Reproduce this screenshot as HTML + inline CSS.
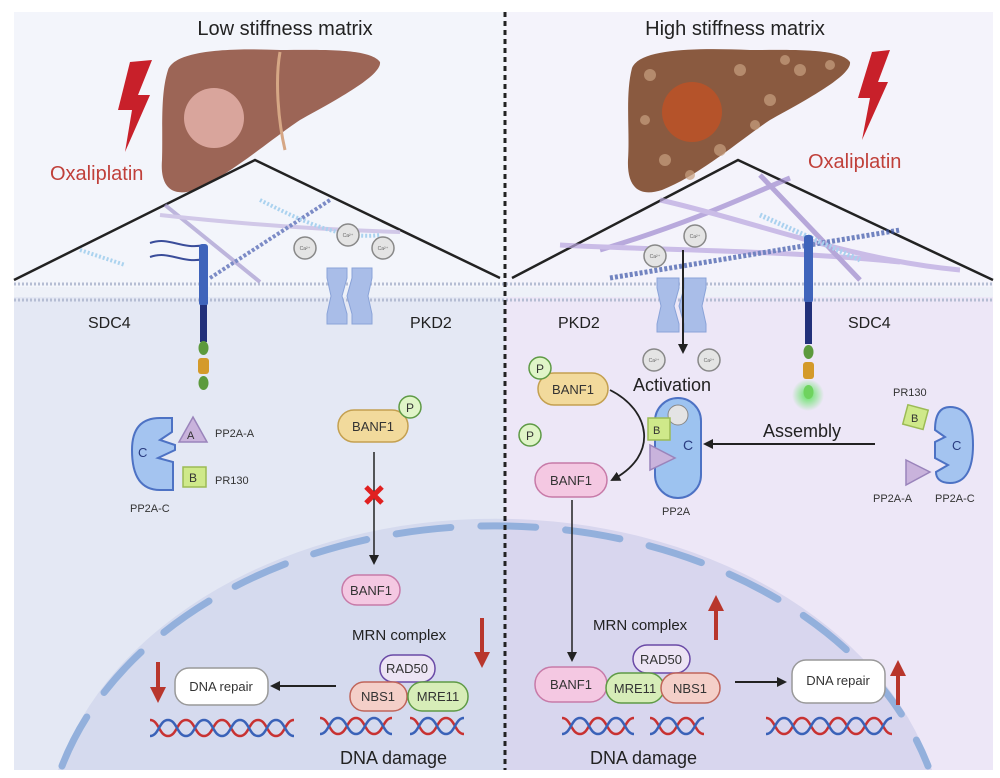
<!DOCTYPE html>
<html><head><meta charset="utf-8"><style>
html,body{margin:0;padding:0;background:#fff;overflow:hidden}
svg{display:block}
text{font-family:"Liberation Sans",sans-serif}
</style></head><body>
<svg width="1000" height="778" viewBox="0 0 1000 778" xmlns="http://www.w3.org/2000/svg">
<defs>
<marker id="ah" markerWidth="10" markerHeight="10" refX="8" refY="5" orient="auto" markerUnits="userSpaceOnUse"><path d="M0,0 L10,5 L0,10 z" fill="#222"/></marker>
<marker id="rh" markerWidth="16" markerHeight="16" refX="8" refY="8" orient="auto" markerUnits="userSpaceOnUse"><path d="M0,0 L16,8 L0,16 z" fill="#b8362c"/></marker>
<radialGradient id="glow"><stop offset="0" stop-color="#5fe35f"/><stop offset="1" stop-color="#5fe35f" stop-opacity="0"/></radialGradient>
<clipPath id="cl"><rect x="14" y="12" width="491" height="758"/></clipPath>
<clipPath id="cr"><rect x="505" y="12" width="488" height="758"/></clipPath>
</defs>
<rect width="1000" height="778" fill="#fff"/>
<rect x="14" y="12" width="491" height="285" fill="#f3f5fb"/>
<rect x="505" y="12" width="488" height="285" fill="#f4f3fb"/>
<rect x="14" y="297" width="491" height="473" fill="#e4e8f4"/>
<rect x="505" y="297" width="488" height="473" fill="#ede7f7"/>
<!-- nucleus -->
<g clip-path="url(#cl)"><path d="M58,770 A450,330 0 0 1 932,770 Z" fill="#d5daee"/></g>
<g clip-path="url(#cr)"><path d="M58,770 A450,330 0 0 1 932,770 Z" fill="#d8d6ee"/></g>
<path d="M62,766 A450,330 0 0 1 928,766" fill="none" stroke="#93b0dc" stroke-width="7" stroke-linecap="round" stroke-dasharray="55 30"/>
<line x1="14" y1="284" x2="993" y2="284" stroke="#b5bdd3" stroke-width="3" stroke-dasharray="2 2"/>
<line x1="14" y1="300" x2="993" y2="300" stroke="#b5bdd3" stroke-width="3" stroke-dasharray="2 2"/>
<rect x="14" y="287" width="979" height="10" fill="#eef1f8"/>
<line x1="505" y1="12" x2="505" y2="770" stroke="#222" stroke-width="3" stroke-dasharray="5 4"/>
<text x="285" y="35" font-size="20" text-anchor="middle" fill="#222">Low stiffness matrix</text>
<text x="735" y="35" font-size="20" text-anchor="middle" fill="#222">High stiffness matrix</text>
<path d="M168,70 C175,50 230,48 280,50 C320,50 370,48 380,62 C382,75 340,98 300,120 C270,140 230,175 195,190 C170,198 160,185 162,160 C163,130 160,95 168,70 z" fill="#9c6556"/>
<path d="M280,52 C275,80 278,120 285,150" stroke="#d6a785" stroke-width="3" fill="none"/>
<circle cx="214" cy="118" r="30" fill="#d9a59c"/>
<path d="M130,62 L152,60 L138,95 L150,95 L125,152 L132,110 L118,110 z" fill="#c8202a"/>
<text x="50" y="180" font-size="20" fill="#c0403a">Oxaliplatin</text>
<path d="M632,68 C640,48 700,48 750,50 C790,50 840,48 850,62 C852,75 810,98 770,120 C740,140 700,175 662,190 C637,198 627,185 628,160 C630,130 625,95 632,68 z" fill="#8a5a40"/>
<g fill="#c8a080" opacity="0.7"><circle cx="650" cy="75" r="6"/><circle cx="665" cy="160" r="6"/><circle cx="740" cy="70" r="6"/><circle cx="770" cy="100" r="6"/><circle cx="800" cy="70" r="6"/><circle cx="830" cy="65" r="5"/><circle cx="720" cy="150" r="6"/><circle cx="645" cy="120" r="5"/><circle cx="755" cy="125" r="5"/><circle cx="785" cy="60" r="5"/><circle cx="690" cy="175" r="5"/></g>
<circle cx="692" cy="112" r="30" fill="#b5532a"/>
<path d="M872,52 L890,50 L878,82 L888,82 L862,140 L870,98 L858,98 z" fill="#c8202a"/>
<text x="808" y="168" font-size="20" fill="#c0403a">Oxaliplatin</text>
<polyline points="14,280 255,160 500,278" fill="none" stroke="#222" stroke-width="2.5"/>
<polyline points="512,278 738,160 993,280" fill="none" stroke="#222" stroke-width="2.5"/>
<g fill="none" stroke-width="4" opacity="0.7">
<path d="M165,205 L260,282" stroke="#a79ad0"/>
<path d="M160,215 C250,225 330,230 400,232" stroke="#c4b5e0"/>
<path d="M210,278 L330,200" stroke="#4a5fb0" stroke-dasharray="3 2"/>
<path d="M260,200 C300,220 340,240 380,235" stroke="#8cc4ea" stroke-dasharray="2 2"/>
<path d="M80,250 L125,265" stroke="#8cc4ea" stroke-dasharray="2 2"/>
</g>
<g fill="none" stroke-width="5" opacity="0.7">
<path d="M600,250 C700,220 760,190 790,178" stroke="#a08ad0"/>
<path d="M660,200 C750,220 850,260 960,270" stroke="#b9a5df"/>
<path d="M560,245 C650,250 780,250 900,262" stroke="#b9a5df"/>
<path d="M760,175 L860,280" stroke="#9c88cc"/>
<path d="M610,278 L900,230" stroke="#3a55a8" stroke-dasharray="3 2"/>
<path d="M760,215 L860,260" stroke="#8cc4ea" stroke-dasharray="2 2"/>
</g>
<path d="M150,243 C170,236 180,250 205,245 M150,257 C170,250 180,264 205,259" stroke="#3a4d9a" stroke-width="2" fill="none"/>
<rect x="199" y="244" width="9" height="62" rx="3" fill="#3f64bb"/>
<rect x="200" y="305" width="7" height="37" fill="#22307a"/>
<ellipse cx="203.5" cy="348" rx="5" ry="7" fill="#5c9a3d"/>
<rect x="198" y="358" width="11" height="16" rx="3" fill="#d49a2a"/>
<ellipse cx="203.5" cy="383" rx="5" ry="7" fill="#5c9a3d"/>
<rect x="804" y="235" width="9" height="68" rx="3" fill="#3f64bb"/>
<rect x="805" y="302" width="7" height="42" fill="#22307a"/>
<ellipse cx="808.5" cy="352" rx="5" ry="7" fill="#5c9a3d"/>
<rect x="803" y="362" width="11" height="17" rx="3" fill="#d49a2a"/>
<circle cx="808" cy="395" r="16" fill="url(#glow)"/>
<ellipse cx="808.5" cy="392" rx="5" ry="7" fill="#6ed35e"/>
<g fill="#a9bde8" stroke="#8aa3d8" stroke-width="1">
<path d="M327,268 h20 v10 l-5,18 5,18 v10 h-20 v-10 l4,-18 -4,-18 z"/>
<path d="M352,268 h20 v10 l-4,18 4,18 v10 h-20 v-10 l-5,-18 5,-18 z"/>
<path d="M657,278 h22 v10 l-5,18 5,18 v8 h-22 v-8 l4,-18 -4,-18 z"/>
<path d="M684,278 h22 v10 l-4,18 4,18 v8 h-22 v-8 l-5,-18 5,-18 z"/>
</g>
<g fill="#e4e4e4" stroke="#888" stroke-width="1.5">
<circle cx="305" cy="248" r="11"/><circle cx="348" cy="235" r="11"/><circle cx="383" cy="248" r="11"/>
<circle cx="655" cy="256" r="11"/><circle cx="695" cy="236" r="11"/>
<circle cx="654" cy="360" r="11"/><circle cx="709" cy="360" r="11"/>
</g>
<g font-size="5" fill="#666" text-anchor="middle"><text x="305" y="250">Ca²⁺</text><text x="348" y="237">Ca²⁺</text><text x="383" y="250">Ca²⁺</text><text x="655" y="258">Ca²⁺</text><text x="695" y="238">Ca²⁺</text><text x="654" y="362">Ca²⁺</text><text x="709" y="362">Ca²⁺</text></g>
<g font-size="16" fill="#222">
<text x="88" y="328">SDC4</text><text x="410" y="328">PKD2</text>
<text x="558" y="328">PKD2</text><text x="848" y="328">SDC4</text>
</g>
<path d="M160,418 C140,418 132,430 132,450 C132,475 140,490 160,490 L173,490 L173,462 L158,458 L175,450 L175,445 L160,440 L172,432 L172,418 z" fill="#a4c4f0" stroke="#4d72c4" stroke-width="2"/>
<text x="138" y="457" font-size="13" fill="#2a3c80">C</text>
<path d="M193,417 L207,442 L179,442 z" fill="#c9b3dc" stroke="#9a84bb" stroke-width="1.5"/>
<text x="187" y="439" font-size="11" fill="#333">A</text>
<rect x="183" y="467" width="23" height="20" fill="#cfe98a" stroke="#9cbb55" stroke-width="1.5"/>
<text x="189" y="482" font-size="12" fill="#333">B</text>
<g font-size="11" fill="#333"><text x="215" y="437">PP2A-A</text><text x="215" y="484">PR130</text><text x="130" y="512">PP2A-C</text></g>
<rect x="338" y="410" width="70" height="32" rx="16" fill="#f2da9c" stroke="#c4a050" stroke-width="1.5"/>
<text x="373" y="431" font-size="13" text-anchor="middle" fill="#333">BANF1</text>
<circle cx="410" cy="407" r="11" fill="#e0f5c8" stroke="#5e9a45" stroke-width="1.5"/>
<text x="410" y="412" font-size="12" text-anchor="middle" fill="#333">P</text>
<line x1="374" y1="452" x2="374" y2="563" stroke="#222" stroke-width="1.5" marker-end="url(#ah)"/>
<path d="M366,487 L382,503 M382,487 L366,503" stroke="#e02020" stroke-width="5"/>
<rect x="342" y="575" width="58" height="30" rx="15" fill="#f4c8e2" stroke="#c77aa8" stroke-width="1.5"/>
<text x="371" y="595" font-size="13" text-anchor="middle" fill="#333">BANF1</text>
<text x="352" y="640" font-size="15" fill="#222">MRN complex</text>
<line x1="482" y1="618" x2="482" y2="660" stroke="#b8362c" stroke-width="4" marker-end="url(#rh)"/>
<rect x="380" y="655" width="55" height="27" rx="13" fill="#ece4f4" stroke="#6a4aa6" stroke-width="1.5"/>
<text x="407" y="673" font-size="13" text-anchor="middle" fill="#333">RAD50</text>
<rect x="350" y="682" width="57" height="29" rx="14" fill="#f4cfc8" stroke="#c0655a" stroke-width="1.5"/>
<text x="378" y="701" font-size="13" text-anchor="middle" fill="#333">NBS1</text>
<rect x="408" y="682" width="60" height="29" rx="14" fill="#d7edb8" stroke="#5e9a45" stroke-width="1.5"/>
<text x="438" y="701" font-size="13" text-anchor="middle" fill="#333">MRE11</text>
<line x1="336" y1="686" x2="272" y2="686" stroke="#222" stroke-width="2" marker-end="url(#ah)"/>
<rect x="175" y="668" width="93" height="37" rx="14" fill="#fff" stroke="#999" stroke-width="1.5"/>
<text x="221" y="691" font-size="13" text-anchor="middle" fill="#333">DNA repair</text>
<line x1="158" y1="662" x2="158" y2="695" stroke="#b8362c" stroke-width="4" marker-end="url(#rh)"/>
<text x="340" y="764" font-size="18" fill="#222">DNA damage</text>
<line x1="683" y1="250" x2="683" y2="352" stroke="#222" stroke-width="2" marker-end="url(#ah)"/>
<text x="633" y="391" font-size="18" fill="#222">Activation</text>
<rect x="538" y="373" width="70" height="32" rx="16" fill="#f2da9c" stroke="#c4a050" stroke-width="1.5"/>
<text x="573" y="394" font-size="13" text-anchor="middle" fill="#333">BANF1</text>
<circle cx="540" cy="368" r="11" fill="#e0f5c8" stroke="#5e9a45" stroke-width="1.5"/>
<text x="540" y="373" font-size="12" text-anchor="middle" fill="#333">P</text>
<circle cx="530" cy="435" r="11" fill="#e0f5c8" stroke="#5e9a45" stroke-width="1.5"/>
<text x="530" y="440" font-size="12" text-anchor="middle" fill="#333">P</text>
<rect x="535" y="463" width="72" height="34" rx="17" fill="#f4c8e2" stroke="#c77aa8" stroke-width="1.5"/>
<text x="571" y="485" font-size="13" text-anchor="middle" fill="#333">BANF1</text>
<path d="M610,390 C650,410 660,455 612,480" stroke="#222" stroke-width="1.8" fill="none" marker-end="url(#ah)"/>
<rect x="655" y="398" width="46" height="100" rx="23" fill="#9dc3f0" stroke="#4d72c4" stroke-width="2"/>
<text x="683" y="450" font-size="14" fill="#2a3c80">C</text>
<circle cx="678" cy="415" r="10" fill="#e4e4e4" stroke="#888" stroke-width="1"/>
<rect x="648" y="418" width="22" height="22" fill="#cfe98a" stroke="#9cbb55" stroke-width="1.5"/>
<text x="653" y="434" font-size="11" fill="#333">B</text>
<path d="M650,445 L675,458 L650,470 z" fill="#c9b3dc" stroke="#9a84bb" stroke-width="1.5"/>
<text x="662" y="515" font-size="11" fill="#333">PP2A</text>
<text x="763" y="437" font-size="18" fill="#222">Assembly</text>
<line x1="875" y1="444" x2="705" y2="444" stroke="#222" stroke-width="2" marker-end="url(#ah)"/>
<text x="893" y="396" font-size="11" fill="#333">PR130</text>
<rect x="905" y="407" width="21" height="20" fill="#cfe98a" stroke="#9cbb55" stroke-width="1.5" transform="rotate(15 915 417)"/>
<text x="911" y="422" font-size="11" fill="#333">B</text>
<path d="M950,407 C968,407 973,425 973,445 C973,470 965,483 950,483 C940,483 936,478 936,472 L948,465 L935,458 L935,442 L945,437 L935,430 C935,415 940,407 950,407 z" fill="#a4c4f0" stroke="#4d72c4" stroke-width="2"/>
<text x="952" y="450" font-size="13" fill="#2a3c80">C</text>
<path d="M906,460 L930,472 L906,485 z" fill="#c9b3dc" stroke="#9a84bb" stroke-width="1.5"/>
<g font-size="11" fill="#333"><text x="873" y="502">PP2A-A</text><text x="935" y="502">PP2A-C</text></g>
<line x1="572" y1="500" x2="572" y2="660" stroke="#222" stroke-width="1.5" marker-end="url(#ah)"/>
<text x="593" y="630" font-size="15" fill="#222">MRN complex</text>
<line x1="716" y1="640" x2="716" y2="603" stroke="#b8362c" stroke-width="4" marker-end="url(#rh)"/>
<rect x="633" y="645" width="57" height="28" rx="14" fill="#ece4f4" stroke="#6a4aa6" stroke-width="1.5"/>
<text x="661" y="664" font-size="13" text-anchor="middle" fill="#333">RAD50</text>
<rect x="535" y="667" width="72" height="35" rx="17" fill="#f4c8e2" stroke="#c77aa8" stroke-width="1.5"/>
<text x="571" y="689" font-size="13" text-anchor="middle" fill="#333">BANF1</text>
<rect x="606" y="673" width="58" height="30" rx="15" fill="#d7edb8" stroke="#5e9a45" stroke-width="1.5"/>
<text x="635" y="693" font-size="13" text-anchor="middle" fill="#333">MRE11</text>
<rect x="661" y="673" width="59" height="30" rx="15" fill="#f4cfc8" stroke="#c0655a" stroke-width="1.5"/>
<text x="690" y="693" font-size="13" text-anchor="middle" fill="#333">NBS1</text>
<line x1="735" y1="682" x2="785" y2="682" stroke="#222" stroke-width="2" marker-end="url(#ah)"/>
<rect x="792" y="660" width="93" height="43" rx="14" fill="#fff" stroke="#999" stroke-width="1.5"/>
<text x="838" y="685" font-size="13" text-anchor="middle" fill="#333">DNA repair</text>
<line x1="898" y1="705" x2="898" y2="668" stroke="#b8362c" stroke-width="4" marker-end="url(#rh)"/>
<text x="590" y="764" font-size="18" fill="#222">DNA damage</text>
<g fill="none" stroke-width="2.5">
<path d="M150,720 c9,0 9,16 18,16 s9,-16 18,-16 s9,16 18,16 s9,-16 18,-16 s9,16 18,16 s9,-16 18,-16 s9,16 18,16 s9,-16 18,-16" stroke="#c83232"/>
<path d="M150,736 c9,0 9,-16 18,-16 s9,16 18,16 s9,-16 18,-16 s9,16 18,16 s9,-16 18,-16 s9,16 18,16 s9,-16 18,-16 s9,16 18,16" stroke="#3a62b8"/>
<path d="M320,718 c9,0 9,16 18,16 s9,-16 18,-16 s9,16 18,16 s9,-16 18,-16 M410,718 c9,0 9,16 18,16 s9,-16 18,-16 s9,16 18,16" stroke="#c83232"/>
<path d="M320,734 c9,0 9,-16 18,-16 s9,16 18,16 s9,-16 18,-16 s9,16 18,16 M410,734 c9,0 9,-16 18,-16 s9,16 18,16 s9,-16 18,-16" stroke="#3a62b8"/>
<path d="M562,718 c9,0 9,16 18,16 s9,-16 18,-16 s9,16 18,16 s9,-16 18,-16 M650,718 c9,0 9,16 18,16 s9,-16 18,-16 s9,16 18,16" stroke="#c83232"/>
<path d="M562,734 c9,0 9,-16 18,-16 s9,16 18,16 s9,-16 18,-16 s9,16 18,16 M650,734 c9,0 9,-16 18,-16 s9,16 18,16 s9,-16 18,-16" stroke="#3a62b8"/>
<path d="M766,718 c9,0 9,16 18,16 s9,-16 18,-16 s9,16 18,16 s9,-16 18,-16 s9,16 18,16 s9,-16 18,-16 s9,16 18,16" stroke="#c83232"/>
<path d="M766,734 c9,0 9,-16 18,-16 s9,16 18,16 s9,-16 18,-16 s9,16 18,16 s9,-16 18,-16 s9,16 18,16 s9,-16 18,-16" stroke="#3a62b8"/>
</g>
</svg>
</body></html>
